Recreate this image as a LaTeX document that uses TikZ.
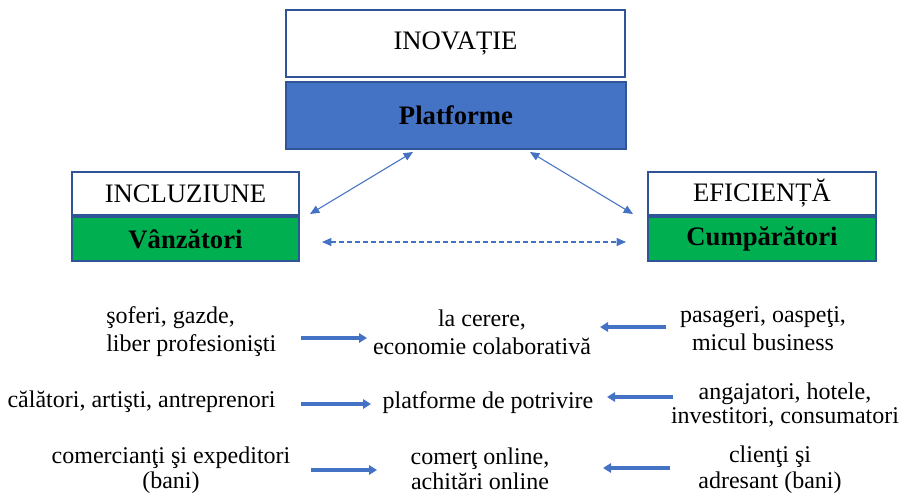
\documentclass[tikz,border=0pt]{standalone}
\usepackage{fontspec}
\setmainfont{Liberation Serif}
\usetikzlibrary{arrows.meta}
\definecolor{bdr}{HTML}{2F5597}
\definecolor{bluefill}{HTML}{4472C4}
\definecolor{greenfill}{HTML}{00B050}
\definecolor{arr}{HTML}{4472C4}
\tikzset{
  boxbase/.style={draw=bdr, line width=1.9pt, inner sep=0pt, text=black},
  whitebox/.style={boxbase, fill=white, font=\fontsize{20}{24}\selectfont},
  bluebox/.style={boxbase, fill=bluefill, font=\fontsize{20}{24}\selectfont\bfseries},
  greenbox/.style={boxbase, fill=greenfill, font=\fontsize{20}{24}\selectfont\bfseries},
  lbl/.style={inner sep=0pt, font=\fontsize{18}{21}\selectfont, align=center},
  thinarr/.style={draw=arr, line width=0.8pt, {Triangle[length=7pt,width=6pt]}-{Triangle[length=7pt,width=6pt]}},
  thickarr/.style={draw=arr, line width=2.3pt, -{Triangle[length=6pt,width=7pt]}}
}
\begin{document}
\begin{tikzpicture}[x=0.75pt,y=-0.75pt]
\useasboundingbox (0,0) rectangle (907,496);
% top boxes
\node[whitebox, minimum width=339*0.75pt, minimum height=67*0.75pt] (ino) at (455.5,43.5) {INOVAȚIE};
\node[bluebox, minimum width=340*0.75pt, minimum height=67*0.75pt] (plat) at (456,115.5) {Platforme};
% left boxes
\node[whitebox, minimum width=227*0.75pt, minimum height=43*0.75pt] (incl) at (185.5,193.5) {INCLUZIUNE};
\node[greenbox, minimum width=227*0.75pt, minimum height=44*0.75pt] (vanz) at (185.5,239) {Vânzători};
% right boxes
\node[whitebox, minimum width=228*0.75pt, minimum height=43*0.75pt] (efic) at (762,193.5) {EFICIENȚĂ};
\node[greenbox, minimum width=228*0.75pt, minimum height=44*0.75pt] (cump) at (762,239) {Cumpărători};
% thin arrows
\coordinate (pl) at (413,152);
\coordinate (pr) at (530,152);
\coordinate (vl) at (310,214);
\coordinate (cr) at (633,214);
\coordinate (dl) at (322,242);
\coordinate (dr) at (626,242);
\draw[thinarr] (pl) -- (vl);
\draw[thinarr] (pr) -- (cr);
\draw[thinarr, dash pattern=on 3.5pt off 2.5pt] (dl) -- (dr);
% row 1
\node[lbl, align=left, anchor=west] (l1) at (106,332) {şoferi, gazde,\\liber profesionişti};
\node[lbl] (m1) at (482,332) {la cerere,\\economie colaborativă};
\node[lbl] (r1) at (763,329) {pasageri, oaspeţi,\\micul business};
\coordinate (a1s) at (301,338); \coordinate (a1e) at (367,338);
\coordinate (b1s) at (666,327); \coordinate (b1e) at (600,327);
\draw[thickarr] (a1s) -- (a1e);
\draw[thickarr] (b1s) -- (b1e);
% row 2
\node[lbl] (l2) at (141.5,402) {călători, artişti, antreprenori};
\node[lbl] (m2) at (488,403) {platforme de potrivire};
\node[lbl, font=\fontsize{18}{18}\selectfont] (r2) at (785,405) {angajatori, hotele,\\investitori, consumatori};
\coordinate (a2s) at (301,404); \coordinate (a2e) at (371,404);
\coordinate (b2s) at (673,397); \coordinate (b2e) at (607,397);
\draw[thickarr] (a2s) -- (a2e);
\draw[thickarr] (b2s) -- (b2e);
% row 3
\node[lbl, font=\fontsize{18}{19}\selectfont] (l3) at (171,470) {comercianţi şi expeditori\\(bani)};
\node[lbl, font=\fontsize{18}{19}\selectfont] (m3) at (480,469) {comerţ online,\\achitări online};
\node[lbl, font=\fontsize{18}{19.5}\selectfont] (r3) at (770,470) {clienţi şi\\adresant (bani)};
\coordinate (a3s) at (311,470); \coordinate (a3e) at (377,470);
\coordinate (b3s) at (670,468); \coordinate (b3e) at (603,468);
\draw[thickarr] (a3s) -- (a3e);
\draw[thickarr] (b3s) -- (b3e);
\end{tikzpicture}
\end{document}
